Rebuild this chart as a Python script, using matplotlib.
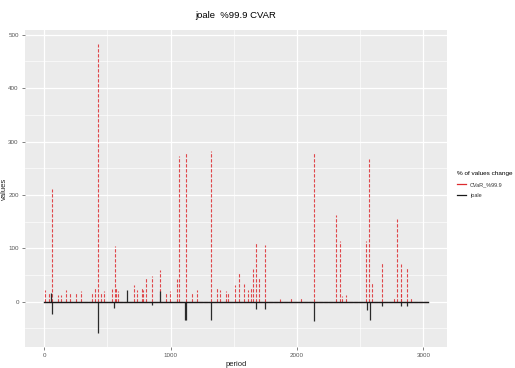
import matplotlib
matplotlib.use("Agg")
import matplotlib.pyplot as plt
from matplotlib.lines import Line2D
from matplotlib.ticker import MultipleLocator

plt.rcParams["font.family"] = ["Liberation Sans", "DejaVu Sans"]

# data: spikes of each series (period, value)
cvar_period = [5, 40, 63, 106, 137, 172, 206, 250, 290, 382, 400, 424, 448, 470,
               540, 560, 566, 585, 712, 733, 778, 786, 804, 857, 917, 962, 997,
               1049, 1067, 1121, 1173, 1207, 1318, 1365, 1391, 1436, 1455, 1508,
               1542, 1581, 1613, 1634, 1655, 1673, 1700, 1744, 1866, 1950, 2035,
               2133, 2310, 2336, 2359, 2385, 2549, 2573, 2590, 2675, 2767, 2794,
               2820, 2825, 2873, 2900]
cvar_value = [21, 16, 212, 12, 12, 22, 16, 17, 19, 16, 25, 482, 17, 19,
              23, 104, 28, 19, 31, 21, 25, 21, 46, 48, 59, 16, 19,
              43, 272, 278, 16, 21, 283, 26, 22, 20, 17, 31,
              54, 33, 22, 27, 61, 111, 46, 106, 5, 7, 8,
              280, 163, 114, 10, 12, 114, 268, 36, 73, 9, 155,
              16, 71, 63, 7]

joale_period = [58, 66, 424, 553, 659, 857, 917, 1115, 1121, 1318, 1673, 1744,
                2134, 2551, 2575, 2675, 2825, 2873]
joale_value = [16, -24, -58, -12, 22, -6, 20, -34, -34, -35, -14, -14,
               -37, -15, -34, -8, -8, -8]

period_range = [0, 3035]
series_names = ["CVaR_%99.9", "joale"]

fig = plt.figure(figsize=(5.15, 3.68), dpi=100)
ax = fig.add_axes([25 / 515, 1 - 347 / 368, 422 / 515, 317 / 368])

ax.set_facecolor("#EBEBEB")
for s in ax.spines.values():
    s.set_visible(False)
ax.xaxis.set_major_locator(MultipleLocator(1000))
ax.xaxis.set_minor_locator(MultipleLocator(500))
ax.yaxis.set_major_locator(MultipleLocator(100))
ax.yaxis.set_minor_locator(MultipleLocator(50))
ax.grid(which="major", color="white", lw=0.9)
ax.grid(which="minor", color="white", lw=0.45)
ax.set_axisbelow(True)
ax.tick_params(which="major", length=2, width=0.5, color="#4D4D4D",
               labelsize=4.5, labelcolor="#555555", pad=2.5)
ax.tick_params(which="minor", length=0)

red = "#dd2a2e"
ax.vlines(cvar_period, 0, cvar_value, colors=red, lw=0.8, alpha=0.85,
          linestyles=(0, (3, 1.5)))
ax.plot(period_range, [0, 0], color=red, lw=0.8, ls=(0, (3, 1.5)))
ax.vlines(joale_period, 0, joale_value, colors="#2a2a2a", lw=0.9)
ax.plot(period_range, [0, 0], color="#1a1a1a", lw=1.0)

ax.set_xlim(-151, 3186)
ax.set_ylim(-85, 509)
ax.set_xlabel("period", fontsize=5.5, color="#222222")
ax.xaxis.set_label_coords(0.5, -0.045)
ax.set_ylabel("values", fontsize=5.5, color="#222222")
ax.yaxis.set_label_coords(-0.04, 0.5)
ax.set_title("joale  %99.9 CVAR", fontsize=6.8, pad=9)

handles = [Line2D([], [], color=red, lw=0.9),
           Line2D([], [], color="#1a1a1a", lw=0.9)]
leg = fig.legend(handles, series_names, loc="upper left",
                 bbox_to_anchor=(452 / 515, 1 - 166 / 368), frameon=False,
                 title="% of values change", fontsize=4.0, title_fontsize=4.6,
                 handlelength=1.6, labelspacing=1.1, alignment="left",
                 handletextpad=0.7)
for t in leg.get_texts():
    t.set_color("#333333")

fig.savefig("out.png", dpi=100)
